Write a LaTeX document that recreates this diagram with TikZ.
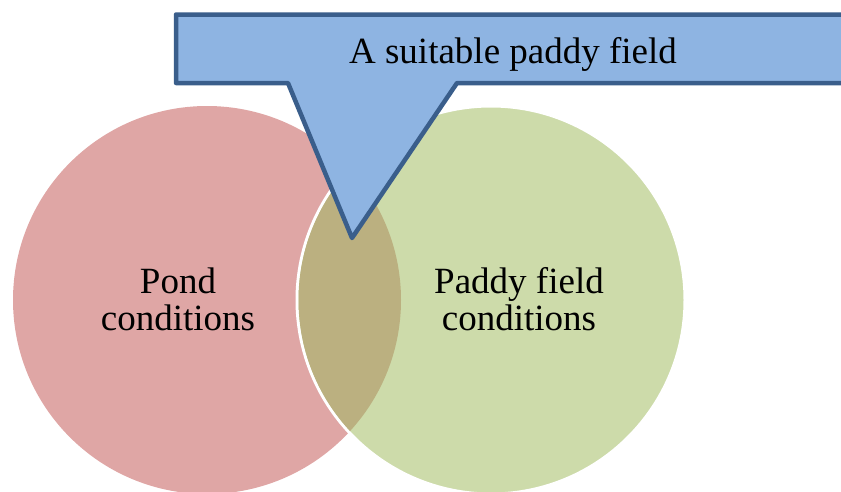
\documentclass[tikz,border=0pt]{standalone}
\usepackage{fontspec}
\setmainfont{Liberation Serif}
\definecolor{pondpink}{RGB}{223,166,165}
\definecolor{fieldgreen}{RGB}{205,219,170}
\definecolor{overlapolive}{RGB}{187,176,128}
\definecolor{calloutfill}{RGB}{142,180,226}
\definecolor{calloutline}{RGB}{58,94,139}
\tikzset{
  label/.style={font=\fontsize{37}{37}\selectfont, align=center, inner sep=0pt},
  callout/.style={fill=calloutfill, draw=calloutline, line width=4.5pt, line join=round}
}
\begin{document}
\begin{tikzpicture}[x=1pt,y=-1pt]
  \useasboundingbox (0,0) rectangle (841,491);
  \clip (0,0) rectangle (841,491);
  % the two sets
  \fill[pondpink] (207,300) circle (194);
  \filldraw[fill=fieldgreen, draw=white, line width=3pt] (491,300) circle (194);
  % their intersection
  \begin{scope}
    \clip (207,300) circle (194);
    \fill[overlapolive] (491,300) circle (192.5);
  \end{scope}
  \node[label] (pond) at (178,299) {Pond\\conditions};
  \node[label] (paddy) at (519,299) {Paddy field\\conditions};
  % callout pointing into the intersection
  \draw[callout] (176,14.5) -- (850,14.5) -- (850,83) -- (457,83)
    -- (352,238) -- (288,83) -- (176,83) -- cycle;
  \node[label, anchor=base] (title) at (513,63) {A suitable paddy field};
\end{tikzpicture}
\end{document}
